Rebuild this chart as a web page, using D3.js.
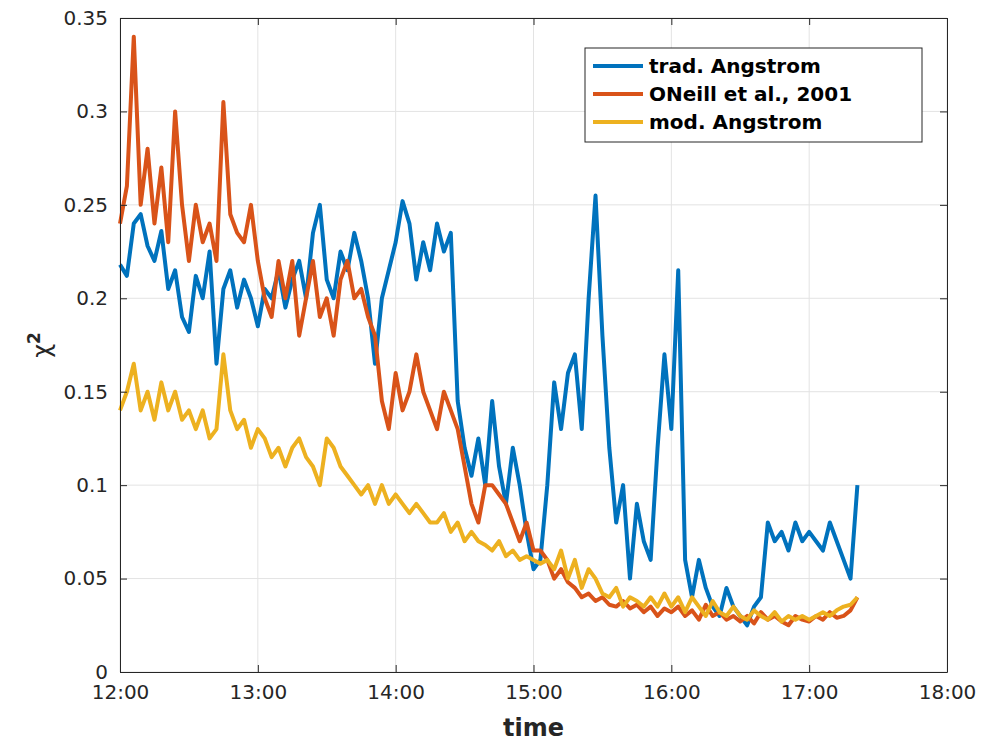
<!DOCTYPE html>
<html><head><meta charset="utf-8">
<script src="https://cdn.jsdelivr.net/npm/d3@7"></script>
<style>body{margin:0;background:#fff}text{font-family:"DejaVu Sans",sans-serif}</style>
</head><body>
<script>
// 3-minute samples from 12:00
var stepMin = 3;
var tradAngstrom = [.218,.212,.24,.245,.228,.22,.236,.205,.215,.19,
  .182,.212,.2,.225,.165,.205,.215,.195,.21,.2,
  .185,.205,.2,.215,.195,.21,.22,.2,.235,.25,
  .21,.2,.225,.215,.235,.22,.2,.165,.2,.215,
  .23,.252,.24,.21,.23,.215,.24,.225,.235,.145,
  .12,.105,.125,.1,.145,.11,.09,.12,.1,.075,
  .055,.06,.1,.155,.13,.16,.17,.13,.2,.255,
  .18,.12,.08,.1,.05,.09,.07,.06,.12,.17,
  .13,.215,.06,.04,.06,.045,.035,.03,.045,.035,
  .03,.025,.035,.04,.08,.07,.075,.065,.08,.07,
  .075,.07,.065,.08,.07,.06,.05,.1];
var oneill = [.24,.26,.34,.25,.28,.24,.27,.23,.3,.25,
  .22,.25,.23,.24,.22,.305,.245,.235,.23,.25,
  .22,.2,.19,.22,.2,.22,.18,.2,.22,.19,
  .2,.18,.21,.22,.2,.205,.19,.18,.145,.13,
  .16,.14,.15,.17,.15,.14,.13,.15,.14,.13,
  .11,.09,.08,.1,.1,.095,.09,.08,.07,.08,
  .065,.065,.06,.05,.055,.048,.045,.04,.042,.038,
  .04,.036,.035,.038,.034,.036,.032,.035,.03,.034,
  .032,.035,.03,.033,.028,.036,.03,.032,.028,.03,
  .027,.03,.026,.032,.028,.03,.027,.025,.03,.028,
  .027,.03,.028,.032,.029,.03,.033,.04];
var modAngstrom = [.14,.15,.165,.14,.15,.135,.155,.14,.15,.135,
  .14,.13,.14,.125,.13,.17,.14,.13,.135,.12,
  .13,.125,.115,.12,.11,.12,.125,.115,.11,.1,
  .125,.12,.11,.105,.1,.095,.1,.09,.1,.09,
  .095,.09,.085,.09,.085,.08,.08,.085,.075,.08,
  .07,.075,.07,.068,.065,.07,.062,.065,.06,.062,
  .06,.058,.06,.055,.065,.05,.06,.045,.055,.05,
  .042,.04,.045,.035,.04,.038,.035,.04,.035,.042,
  .035,.04,.032,.04,.035,.03,.038,.032,.03,.035,
  .03,.028,.033,.03,.028,.032,.027,.03,.028,.03,
  .028,.03,.032,.03,.033,.035,.036,.04];
var seriesNames = ["trad. Angstrom", "ONeill et al., 2001", "mod. Angstrom"];
var colors = ["#0072BD", "#D95319", "#EDB120"];
var xTicks = ["12:00","13:00","14:00","15:00","16:00","17:00","18:00"];
var yTicks = [0,0.05,0.1,0.15,0.2,0.25,0.3,0.35];

var W = 987, H = 742, m = {l:120, r:40, t:18, b:70};
var svg = d3.select("body").append("svg").attr("width", W).attr("height", H);
var x = d3.scaleLinear().domain([12*60, 18*60]).range([m.l, W - m.r]);
var y = d3.scaleLinear().domain([0, 0.35]).range([H - m.b, m.t]);
var tickVals = xTicks.map(function(t){ return +t.split(":")[0]*60; });

// grid
svg.append("g").selectAll("line").data(tickVals).enter().append("line")
  .attr("x1", d => x(d)).attr("x2", d => x(d)).attr("y1", m.t).attr("y2", H - m.b)
  .attr("stroke", "#e3e3e3");
svg.append("g").selectAll("line").data(yTicks).enter().append("line")
  .attr("y1", d => y(d)).attr("y2", d => y(d)).attr("x1", m.l).attr("x2", W - m.r)
  .attr("stroke", "#e3e3e3");

var line = d3.line().x((d, i) => x(720 + i*stepMin)).y(d => y(d));
[tradAngstrom, oneill, modAngstrom].forEach(function(s, k){
  svg.append("path").datum(s).attr("d", line).attr("fill", "none")
    .attr("stroke", colors[k]).attr("stroke-width", 4).attr("stroke-linejoin", "round");
});

// axes
var xa = svg.append("g").attr("transform", "translate(0," + (H - m.b) + ")")
  .call(d3.axisBottom(x).tickValues(tickVals).tickFormat((d, i) => xTicks[i]).tickSizeInner(-7).tickSizeOuter(0));
var xt = svg.append("g").attr("transform", "translate(0," + m.t + ")")
  .call(d3.axisTop(x).tickValues(tickVals).tickFormat("").tickSizeInner(-7).tickSizeOuter(0));
var ya = svg.append("g").attr("transform", "translate(" + m.l + ",0)")
  .call(d3.axisLeft(y).tickValues(yTicks).tickFormat(d => d === 0 ? "0" : String(+d.toFixed(2))).tickSizeInner(-7).tickSizeOuter(0));
var yr = svg.append("g").attr("transform", "translate(" + (W - m.r) + ",0)")
  .call(d3.axisRight(y).tickValues(yTicks).tickFormat("").tickSizeInner(-7).tickSizeOuter(0));
[xa, xt, ya, yr].forEach(function(g){
  g.selectAll("path,line").attr("stroke", "#262626");
  g.selectAll("text").attr("font-size", 20).attr("fill", "#262626").style("font-family", "DejaVu Sans");
});
xa.selectAll("text").attr("y", 13).attr("dy", "0.71em");
ya.selectAll("text").attr("x", -12);

svg.append("text").attr("x", (m.l + W - m.r)/2).attr("y", 736).attr("text-anchor", "middle")
  .attr("font-size", 24).attr("font-weight", "bold").attr("fill", "#262626").text("time");
svg.append("text").attr("transform", "translate(50," + ((m.t + H - m.b)/2) + ") rotate(-90)")
  .attr("text-anchor", "middle").attr("font-size", 24).attr("fill", "#262626")
  .html('χ<tspan dy="-10" font-size="17" font-weight="bold">2</tspan>');

// legend
var lg = svg.append("g").attr("transform", "translate(585,48)");
lg.append("rect").attr("width", 337).attr("height", 94).attr("fill", "#fff").attr("stroke", "#262626");
seriesNames.forEach(function(n, k){
  var yy = 18 + k*28;
  lg.append("line").attr("x1", 8).attr("x2", 58).attr("y1", yy).attr("y2", yy)
    .attr("stroke", colors[k]).attr("stroke-width", 4);
  lg.append("text").attr("x", 64).attr("y", yy + 7).attr("font-size", 20).attr("font-weight", "bold")
    .attr("fill", "#000").text(n);
});
</script>
</body></html>
